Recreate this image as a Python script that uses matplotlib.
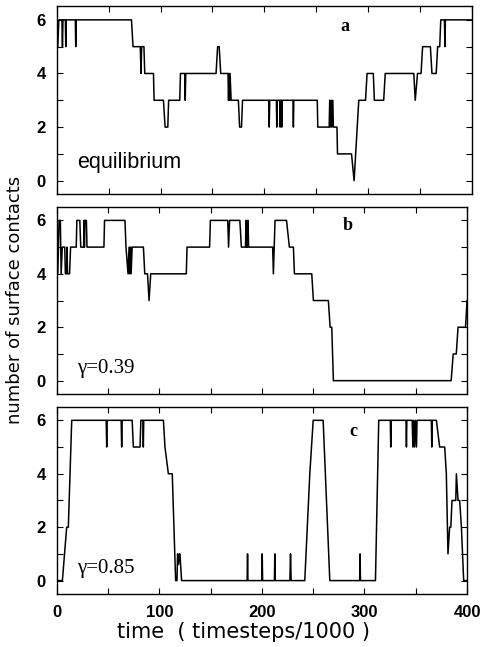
import matplotlib
matplotlib.use('Agg')
import matplotlib.pyplot as plt
from matplotlib.ticker import MultipleLocator

# panel a: equilibrium
t_a = [0, 1, 2, 5, 5.5, 6, 8.3, 8.7, 9.2, 17.9, 18.3, 18.8,
       72, 73.5, 80.5, 81.2, 81.8, 84, 84.8, 93.2, 93.8, 102.8, 104.4, 107, 107.8,
       118.5, 119.2, 123.3, 123.8, 124.3, 153.5, 155, 156.5, 158, 165, 165.5, 166,
       166.5, 167, 168, 175, 176.2, 178, 179, 204.2, 204.7, 205.2, 211.6, 212, 212.4,
       214.8, 215.2, 215.6, 216.4, 216.8, 217.2, 227.6, 228, 228.4, 251, 251.5,
       262.5, 263, 263.5, 264.5, 265, 266, 266.5, 270, 270.5, 284, 286.5, 291,
       297.5, 299, 305, 306, 315, 316.5, 344, 345.4, 347.6, 351, 352.5, 360, 361.5,
       365.6, 367, 369, 370, 373.5, 374, 374.5, 400]
n_a = [5, 5, 6, 6, 5, 6, 6, 5, 6, 6, 5, 6,
       6, 5, 5, 4, 5, 5, 4, 4, 3, 3, 2, 2, 3,
       3, 4, 4, 3, 4, 4, 5, 5, 4, 4, 3, 4,
       3, 4, 3, 3, 2, 2, 3, 3, 2, 3, 3, 2, 3,
       3, 2, 3, 3, 2, 3, 3, 2, 3, 3, 2,
       2, 3, 2, 3, 2, 3, 2, 2, 1, 1, 0, 3,
       3, 4, 4, 3, 3, 4, 4, 3, 4, 4, 5, 5, 4,
       4, 5, 5, 6, 6, 5, 6, 6]

# panel b: gamma = 0.39
t_b = [0, 1, 2.3, 3.5, 4.3, 5.4, 7.8, 8.4, 9.5, 10, 10.5, 12.5, 13.5, 19, 19.6,
       22.5, 23.4, 26.2, 26.6, 27, 27.5, 28.9, 29.5, 46, 46.6, 66.5, 67.5, 69.5,
       70.5, 71, 72, 72.5, 73.5, 84.5, 85.8, 88.5, 90, 91.6, 126.3, 127, 149, 149.8,
       166.7, 167.5, 168.5, 169.7, 178.5, 180, 184, 184.5, 185, 185.5, 186, 186.5,
       187, 187.5, 210.5, 211.2, 212.8, 224, 226.8, 230.7, 231.7, 248.6, 250.2,
       264.8, 266.5, 268.1, 269.7, 384.5, 386.5, 389.5, 391.2, 398.5, 400]
n_b = [4, 4, 6, 6, 4, 5, 5, 4, 4, 5, 4, 4, 5, 5, 6,
       6, 5, 5, 6, 5, 6, 6, 5, 5, 6, 6, 5, 4,
       5, 4, 5, 4, 5, 5, 4, 4, 3, 4, 4, 5, 5, 6,
       6, 5, 6, 6, 6, 5, 5, 6, 5, 6, 5, 6,
       5, 5, 5, 4, 6, 6, 5, 5, 4, 4, 3,
       3, 2, 2, 0, 0, 1, 1, 2, 2, 3]

# panel c: gamma = 0.85
t_c = [0, 5.5, 9.7, 11.3, 14.6, 48.2, 48.7, 49.2, 62.8, 63.3, 63.8, 73.5, 74.7,
       81.2, 82, 84, 84.4, 84.8, 104, 105.5, 108.8, 112.6, 115.9, 117.2, 117.8,
       118.8, 119.5, 120.1, 121.7, 185.6, 186, 186.4, 199.9, 200.3, 200.7, 212.2,
       212.6, 213, 227.3, 227.9, 228.5, 241.8, 246.7, 250, 259.7, 266.2, 295.3,
       295.7, 296.1, 310.7, 313.9, 325.2, 325.6, 326, 340.5, 340.9, 341.3, 346.5,
       347.2, 348, 348.8, 349.6, 350.7, 351.2, 365.2, 365.6, 366, 370.1, 373.3,
       378.2, 379.8, 381.4, 383, 384.2, 385.3, 389, 389.6, 391.2, 392.8, 394.5,
       396.7, 400]
n_c = [0, 0, 2, 2, 6, 6, 5, 6, 6, 5, 6, 6, 5,
       5, 6, 6, 5, 6, 6, 5, 4, 4, 0, 0, 1,
       0.6, 1, 1, 0, 0, 1, 0, 0, 1, 0, 0,
       1, 0, 0, 1, 0, 0, 4, 6, 6, 0, 0,
       1, 0, 0, 6, 6, 5, 6, 6, 5, 6, 6,
       5, 6, 5, 6, 5, 6, 6, 5, 6, 6, 5,
       5, 4, 1, 2, 2, 3, 3, 4, 3, 3, 2,
       0, 0]

panels = [(t_a, n_a, 'a', 'equilibrium'),
          (t_b, n_b, 'b', 'γ=0.39'),
          (t_c, n_c, 'c', 'γ=0.85')]
boxes = [[0.117, 0.700, 0.856, 0.290],
         [0.117, 0.391, 0.846, 0.289],
         [0.117, 0.082, 0.846, 0.289]]
tag_pos = [(273, 5.75), (279, 5.8), (285, 5.6)]

fig = plt.figure(figsize=(4.85, 6.47), dpi=100)

for i, (t, n, tag, note) in enumerate(panels):
    ax = fig.add_axes(boxes[i])
    ax.plot(t, n, color='black', linewidth=1.1)
    ax.set_xlim(0, 400)
    ax.set_ylim(-0.5, 6.5)
    ax.xaxis.set_major_locator(MultipleLocator(100))
    ax.xaxis.set_minor_locator(MultipleLocator(50))
    ax.yaxis.set_major_locator(MultipleLocator(2))
    ax.yaxis.set_minor_locator(MultipleLocator(1))
    ax.tick_params(which='both', direction='in', top=True, right=True, width=0.8)
    ax.tick_params(which='major', length=4, labelsize=12)
    ax.tick_params(axis='y', which='major', pad=8)
    ax.tick_params(axis='x', which='major', pad=8)
    ax.tick_params(which='minor', length=4)
    for lab in ax.get_xticklabels() + ax.get_yticklabels():
        lab.set_fontfamily('Liberation Sans')
        lab.set_fontweight('bold')
    if i < 2:
        ax.set_xticklabels([])
    ax.text(tag_pos[i][0], tag_pos[i][1], tag, fontsize=13, fontweight='bold',
            family='Liberation Serif', va='center')
    if i == 0:
        ax.text(19.5, 0.67, note, fontsize=15.5, family='Liberation Sans', va='center')
    else:
        ax.text(19.5, 0.45, note, fontsize=15, family='Liberation Serif', va='center')
    for s in ax.spines.values():
        s.set_linewidth(1.0)

fig.text(0.03, 0.536, 'number of surface contacts', rotation=90, ha='center', va='center',
         fontsize=13, family='DejaVu Sans')
fig.text(0.503, 0.023, 'time  ( timesteps/1000 )', ha='center', va='center',
         fontsize=15, family='DejaVu Sans')

fig.savefig('out.png', dpi=100)
